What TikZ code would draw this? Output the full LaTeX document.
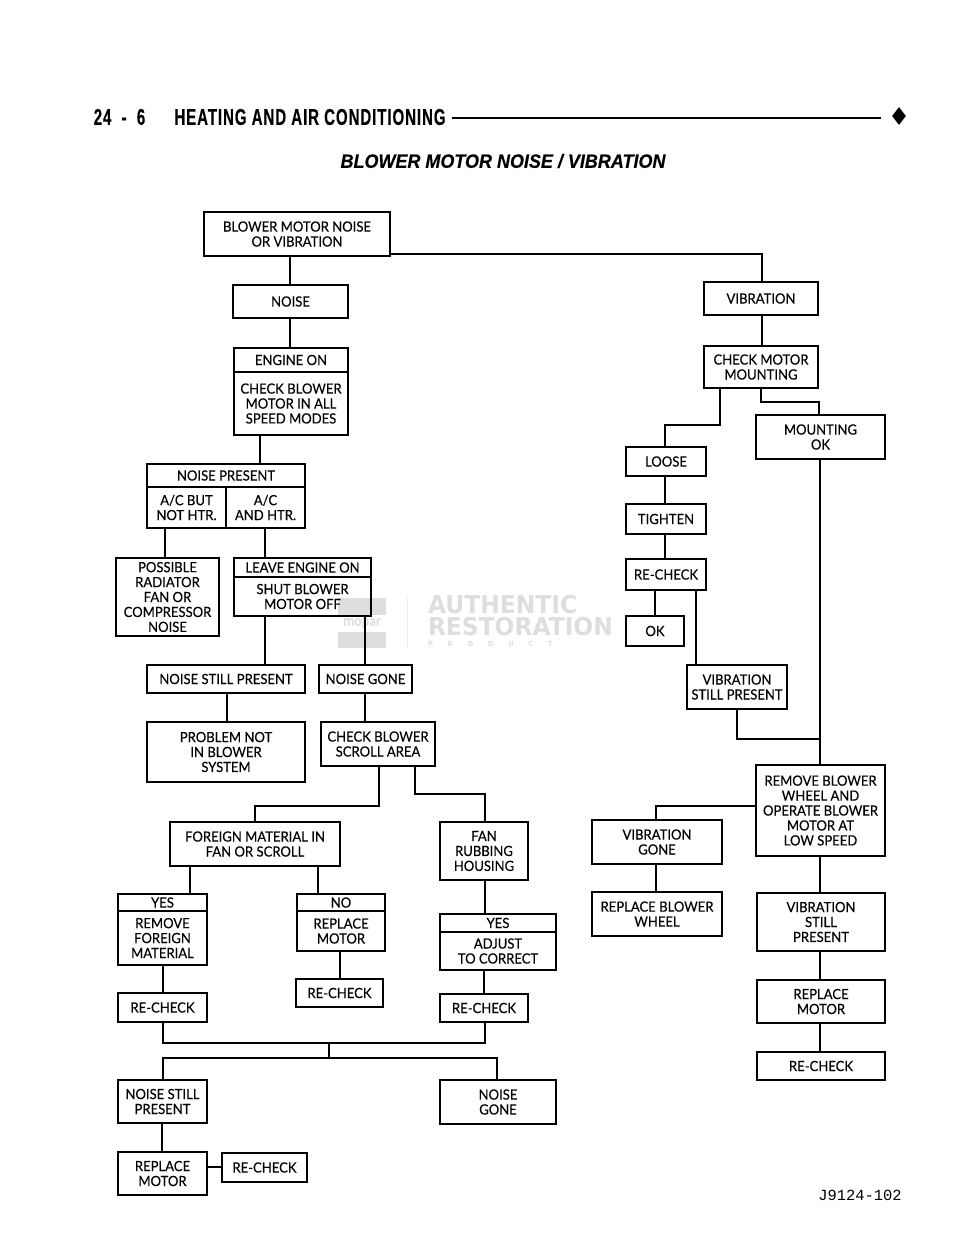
\documentclass[tikz,border=0pt]{standalone}
\usepackage{fontspec}
\usetikzlibrary{shapes.geometric}
\setmainfont{Lato}[FakeStretch=0.93, FakeBold=0.25]
\newfontfamily\headfont[FakeStretch=0.66, FakeBold=0.3, LetterSpace=4]{Liberation Sans Bold}
\newfontfamily\titlefont[FakeStretch=0.93, FakeBold=0.4]{Liberation Sans Bold Italic}
\newfontfamily\wmfont[FakeStretch=0.95]{DejaVu Sans Bold}
\newfontfamily\codefont{Liberation Mono}
\tikzset{
	box/.style n args={2}{draw, line width=0.72pt, inner sep=0pt, outer sep=0pt, align=center, minimum width=#1*0.02cm, minimum height=#2*0.02cm, font=\fontsize{8}{8.5}\selectfont},
	ln/.style={line width=0.72pt, line cap=rect},
	mark text/.style={text=black!13, inner sep=0pt, outer sep=0pt}
}
\begin{document}
\begin{tikzpicture}[x=0.02cm, y=-0.02cm]
	\useasboundingbox (0, 0) rectangle (960, 1242);

	% Page heading
	\node[font=\headfont\fontsize{13}{13}\selectfont, inner sep=0pt] (pagenum) at (119.5, 117) {24\ \ -\ \ 6};
	\node[font=\headfont\fontsize{13}{13}\selectfont, inner sep=0pt] (pagehead) at (310, 117) {HEATING AND AIR CONDITIONING};
	\node[diamond, fill=black, inner sep=0pt, minimum width=14*0.02cm, minimum height=18*0.02cm] (pagemark) at (899, 116) {};
	\draw[line width=1.1pt] ([xshift=0.12cm]pagehead.east |- 0, 118) -- ([xshift=-0.22cm]pagemark.west |- 0, 118);
	\node[font=\titlefont\fontsize{11}{11}\selectfont, inner sep=0pt] (charttitle) at (503, 161) {BLOWER MOTOR NOISE / VIBRATION};
	\node[font=\codefont\fontsize{8.8}{9}\selectfont, inner sep=0pt] (figcode) at (860, 1195) {J9124-102};

	% Watermark
	\fill[black!13] (338, 598) rectangle (386, 615);
	\fill[black!13] (338, 632) rectangle (386, 648);
	\node[mark text, font=\fontsize{8}{8}\selectfont\bfseries] (markname) at (362, 623) {mopar};
	\draw[black!8] (407, 598) -- (407, 647);
	\node[mark text, anchor=west, font=\wmfont\fontsize{14}{14}\selectfont] (markone) at (428, 605) {AUTHENTIC};
	\node[mark text, anchor=west, font=\wmfont\fontsize{14}{14}\selectfont] (marktwo) at (428, 627) {RESTORATION};
	\node[mark text, anchor=west, font=\wmfont\fontsize{4}{4}\selectfont] (markthree) at (428, 644) {P\hspace{2.1em}R\hspace{2.1em}O\hspace{2.1em}D\hspace{2.1em}U\hspace{2.1em}C\hspace{2.1em}T};

	% Start and noise side
	\node[box={186}{44}] (mainbox) at (297, 234) {BLOWER MOTOR NOISE\\OR VIBRATION};
	\node[box={115}{33}] (noise) at (290.5, 301.5) {NOISE};
	\node[box={114}{24}] (enginehd) at (291, 360) {ENGINE ON};
	\node[box={114}{63}] (enginebd) at (291, 403.5) {CHECK BLOWER\\MOTOR IN ALL\\SPEED MODES};
	\node[box={158}{23}] (presenthd) at (226, 475.5) {NOISE PRESENT};
	\node[box={79}{41}] (presentl) at (186.5, 507.5) {A/C BUT\\NOT HTR.};
	\node[box={79}{41}] (presentr) at (265.5, 507.5) {A/C\\AND HTR.};
	\node[box={103}{78}] (possible) at (167.5, 597) {POSSIBLE\\RADIATOR\\FAN OR\\COMPRESSOR\\NOISE};
	\node[box={137}{19}] (leavehd) at (302.5, 567.5) {LEAVE ENGINE ON};
	\node[box={137}{39}] (leavebd) at (302.5, 596.5) {SHUT BLOWER\\MOTOR OFF};
	\node[box={158}{28}] (stillone) at (226, 679) {NOISE STILL PRESENT};
	\node[box={93}{28}] (goneone) at (365.5, 679) {NOISE GONE};
	\node[box={158}{60}] (problem) at (226, 752) {PROBLEM NOT\\IN BLOWER\\SYSTEM};
	\node[box={114}{44}] (scroll) at (378, 744) {CHECK BLOWER\\SCROLL AREA};
	\node[box={170}{44}] (foreign) at (255, 844) {FOREIGN MATERIAL IN\\FAN OR SCROLL};
	\node[box={88}{58}] (fan) at (484, 851) {FAN\\RUBBING\\HOUSING};
	\node[box={89}{17}] (yeshd) at (162.5, 902.5) {YES};
	\node[box={89}{54}] (yesbd) at (162.5, 938) {REMOVE\\FOREIGN\\MATERIAL};
	\node[box={88}{17}] (nohd) at (341, 902.5) {NO};
	\node[box={88}{40}] (nobd) at (341, 931) {REPLACE\\MOTOR};
	\node[box={116}{18}] (fanyeshd) at (498, 923) {YES};
	\node[box={116}{38}] (fanyesbd) at (498, 951) {ADJUST\\TO CORRECT};
	\node[box={89}{29}] (recheckone) at (162.5, 1007.5) {RE-CHECK};
	\node[box={87}{28}] (rechecktwo) at (339.5, 993) {RE-CHECK};
	\node[box={88}{28}] (recheckthree) at (484, 1008) {RE-CHECK};
	\node[box={89}{43}] (stilltwo) at (162.5, 1101.5) {NOISE STILL\\PRESENT};
	\node[box={116}{44}] (gonetwo) at (498, 1102) {NOISE\\GONE};
	\node[box={89}{43}] (replaceone) at (162.5, 1173.5) {REPLACE\\MOTOR};
	\node[box={85}{29}] (recheckfour) at (264.5, 1167.5) {RE-CHECK};

	% Vibration side
	\node[box={114}{33}] (vibration) at (761, 298.5) {VIBRATION};
	\node[box={114}{42}] (mounting) at (761, 367) {CHECK MOTOR\\MOUNTING};
	\node[box={129}{44}] (mountok) at (820.5, 437) {MOUNTING\\OK};
	\node[box={80}{29}] (loose) at (666, 461.5) {LOOSE};
	\node[box={80}{30}] (tighten) at (666, 519) {TIGHTEN};
	\node[box={80}{31}] (recheckloose) at (666, 574.5) {RE-CHECK};
	\node[box={58}{30}] (okbox) at (655, 631) {OK};
	\node[box={100}{44}] (vibstillone) at (737, 687) {VIBRATION\\STILL PRESENT};
	\node[box={129}{91}] (wheel) at (820.5, 810.5) {REMOVE BLOWER\\WHEEL AND\\OPERATE BLOWER\\MOTOR AT\\LOW SPEED};
	\node[box={130}{44}] (vibgone) at (657, 842) {VIBRATION\\GONE};
	\node[box={130}{44}] (replacewheel) at (657, 914) {REPLACE BLOWER\\WHEEL};
	\node[box={128}{58}] (vibstilltwo) at (821, 922) {VIBRATION\\STILL\\PRESENT};
	\node[box={128}{43}] (replacetwo) at (821, 1001.5) {REPLACE\\MOTOR};
	\node[box={128}{28}] (recheckfive) at (821, 1066) {RE-CHECK};

	% Junctions
	\coordinate (busup) at (329, 1043);
	\coordinate (busdown) at (329, 1058);
	\coordinate (vibjoin) at (820, 739);

	% Connectors, noise side
	\draw[ln] (mainbox.south -| 290, 0) -- (noise.north -| 290, 0);
	\draw[ln] (mainbox.east |- 0, 254) -- (762, 254) -- (vibration.north -| 762, 0);
	\draw[ln] (noise.south -| 290, 0) -- (enginehd.north -| 290, 0);
	\draw[ln] (enginebd.south -| 260, 0) -- (presenthd.north -| 260, 0);
	\draw[ln] (presentl.south -| 165, 0) -- (possible.north -| 165, 0);
	\draw[ln] (presentr.south -| 265, 0) -- (leavehd.north -| 265, 0);
	\draw[ln] (leavebd.south -| 265, 0) -- (stillone.north -| 265, 0);
	\draw[ln] (leavebd.south -| 365, 0) -- (goneone.north -| 365, 0);
	\draw[ln] (stillone.south -| 227, 0) -- (problem.north -| 227, 0);
	\draw[ln] (goneone.south -| 365, 0) -- (scroll.north -| 365, 0);
	\draw[ln] (scroll.south -| 379, 0) -- (379, 806) -- (255, 806) -- (foreign.north);
	\draw[ln] (scroll.south -| 415, 0) -- (415, 794) -- (485, 794) -- (fan.north -| 485, 0);
	\draw[ln] (foreign.south -| 190, 0) -- (yeshd.north -| 190, 0);
	\draw[ln] (foreign.south -| 318, 0) -- (nohd.north -| 318, 0);
	\draw[ln] (fan.south -| 485, 0) -- (fanyeshd.north -| 485, 0);
	\draw[ln] (yesbd.south -| 163, 0) -- (recheckone.north -| 163, 0);
	\draw[ln] (nobd.south -| 340, 0) -- (rechecktwo.north -| 340, 0);
	\draw[ln] (fanyesbd.south -| 484, 0) -- (recheckthree.north -| 484, 0);
	\draw[ln] (recheckone.south -| 163, 0) |- (busup) -| (recheckthree.south -| 485, 0);
	\draw[ln] (busup) -- (busdown);
	\draw[ln] (stilltwo.north -| 163, 0) |- (busdown) -| (gonetwo.north -| 497, 0);
	\draw[ln] (stilltwo.south -| 162, 0) -- (replaceone.north -| 162, 0);
	\draw[ln] (replaceone.east |- 0, 1167) -- (recheckfour.west |- 0, 1167);

	% Connectors, vibration side
	\draw[ln] (vibration.south -| 762, 0) -- (mounting.north -| 762, 0);
	\draw[ln] (mounting.south -| 720, 0) -- (720, 425) -- (665, 425) -- (loose.north -| 665, 0);
	\draw[ln] (mounting.south -| 761, 0) -- (761, 402) -- (819, 402) -- (mountok.north -| 819, 0);
	\draw[ln] (mountok.south -| 820, 0) -- (wheel.north -| 820, 0);
	\draw[ln] (loose.south -| 665, 0) -- (tighten.north -| 665, 0);
	\draw[ln] (tighten.south -| 665, 0) -- (recheckloose.north -| 665, 0);
	\draw[ln] (recheckloose.south -| 655, 0) -- (okbox.north -| 655, 0);
	\draw[ln] (recheckloose.south -| 696, 0) -- (vibstillone.north -| 696, 0);
	\draw[ln] (vibstillone.south -| 737, 0) |- (vibjoin);
	\draw[ln] (wheel.west |- 0, 806) -- (656, 806) -- (vibgone.north -| 656, 0);
	\draw[ln] (vibgone.south -| 656, 0) -- (replacewheel.north -| 656, 0);
	\draw[ln] (wheel.south -| 820, 0) -- (vibstilltwo.north -| 820, 0);
	\draw[ln] (vibstilltwo.south -| 820, 0) -- (replacetwo.north -| 820, 0);
	\draw[ln] (replacetwo.south -| 820, 0) -- (recheckfive.north -| 820, 0);
\end{tikzpicture}
\end{document}
